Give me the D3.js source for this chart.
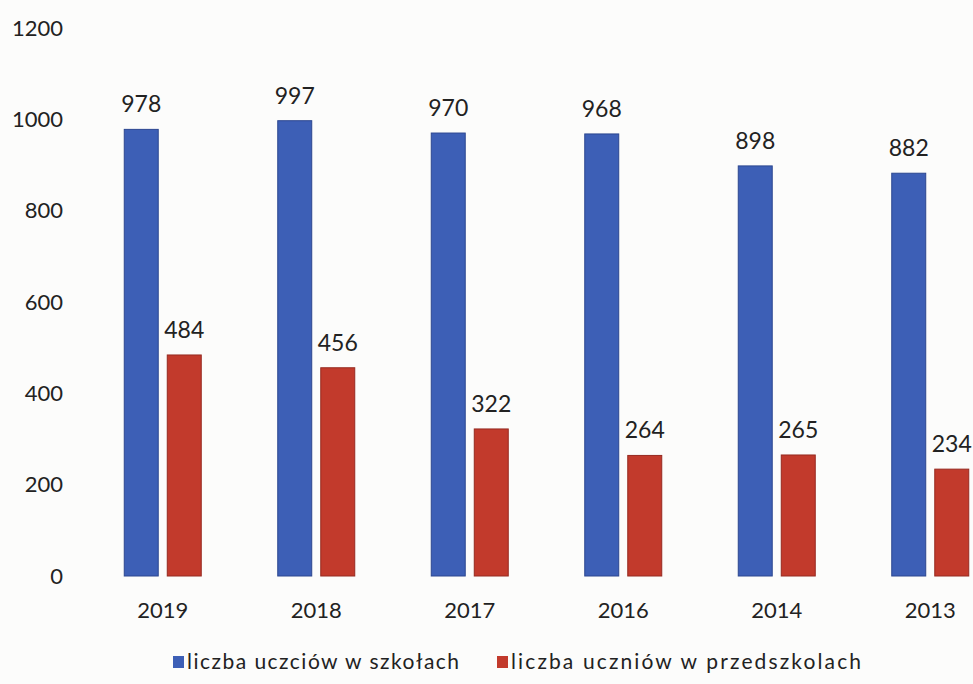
<!DOCTYPE html>
<html>
<head>
<meta charset="utf-8">
<script src="https://d3js.org/d3.v7.min.js"></script>
<style>
  body { margin: 0; background: #fcfcfb; }
  svg { display: block; font-family: Lato, "Open Sans", sans-serif; }
</style>
</head>
<body>
<svg id="chart" width="973" height="684"></svg>
<script>
// data
var years = ["2019", "2018", "2017", "2016", "2014", "2013"];
var seriesNames = ["liczba uczciów w szkołach", "liczba uczniów w przedszkolach"];
var schools = [978, 997, 970, 968, 898, 882];
var preschools = [484, 456, 322, 264, 265, 234];
var yTicks = [0, 200, 400, 600, 800, 1000, 1200];
var colors = ["#3d5fb6", "#c23a2c"];
var strokes = ["#2c4790", "#962a20"];

var svg = d3.select("#chart");

var x0 = d3.scaleBand().domain(years).range([86, 1007]).padding(0);
var x1 = d3.scaleBand().domain([0, 1])
  .range([x0.bandwidth() / 2 - 38.5, x0.bandwidth() / 2 + 38.5])
  .paddingInner(0.21).paddingOuter(0);
var y = d3.scaleLinear().domain([0, 1200]).range([576, 28]);

// y axis labels (no line, no gridlines)
var yAxis = d3.axisLeft(y).tickValues(yTicks).tickFormat(d3.format("d")).tickSize(0).tickPadding(0);
var gy = svg.append("g").attr("transform", "translate(63,0)").call(yAxis);
gy.select(".domain").remove();
gy.selectAll("text")
  .attr("font-family", "Lato, 'Open Sans', sans-serif")
  .attr("font-size", 22)
  .attr("fill", "#222");

// x axis labels
var xAxis = d3.axisBottom(x0).tickSize(0).tickPadding(2);
var gx = svg.append("g").attr("transform", "translate(0,600)").call(xAxis);
gx.select(".domain").remove();
gx.selectAll("text")
  .attr("font-family", "Lato, 'Open Sans', sans-serif")
  .attr("font-size", 22)
  .attr("fill", "#222");

var rows = years.map(function(yr, i) {
  return { year: yr, values: [schools[i], preschools[i]] };
});

var groups = svg.selectAll("g.grp")
  .data(rows)
  .enter()
  .append("g")
  .attr("class", "grp")
  .attr("transform", function(d) { return "translate(" + x0(d.year) + ",0)"; });

groups.selectAll("rect")
  .data(function(d) { return d.values.map(function(v, k) { return { k: k, v: v }; }); })
  .enter()
  .append("rect")
  .attr("x", function(d) { return x1(d.k); })
  .attr("width", x1.bandwidth())
  .attr("y", function(d) { return y(d.v); })
  .attr("height", function(d) { return y(0) - y(d.v); })
  .attr("fill", function(d) { return colors[d.k]; })
  .attr("stroke", function(d) { return strokes[d.k]; })
  .attr("stroke-width", 1);

groups.selectAll("text.val")
  .data(function(d) { return d.values.map(function(v, k) { return { k: k, v: v }; }); })
  .enter()
  .append("text")
  .attr("class", "val")
  .attr("x", function(d) { return x1(d.k) + x1.bandwidth() / 2; })
  .attr("y", function(d) { return y(d.v) - 17; })
  .attr("text-anchor", "middle")
  .attr("font-size", 23)
  .attr("fill", "#222")
  .text(function(d) { return d.v; });

// legend
var legendX = [173, 497];
var legendW = [272, 350];
var legend = svg.selectAll("g.leg")
  .data(seriesNames)
  .enter()
  .append("g")
  .attr("class", "leg")
  .attr("transform", function(d, i) { return "translate(" + legendX[i] + ",656)"; });
legend.append("rect")
  .attr("width", 11).attr("height", 12)
  .attr("fill", function(d, i) { return colors[i]; });
legend.append("text")
  .attr("x", 14).attr("y", 13)
  .attr("font-size", 21)
  .attr("fill", "#222")
  .attr("textLength", function(d, i) { return legendW[i]; })
  .text(function(d) { return d; });
</script>
</body>
</html>
